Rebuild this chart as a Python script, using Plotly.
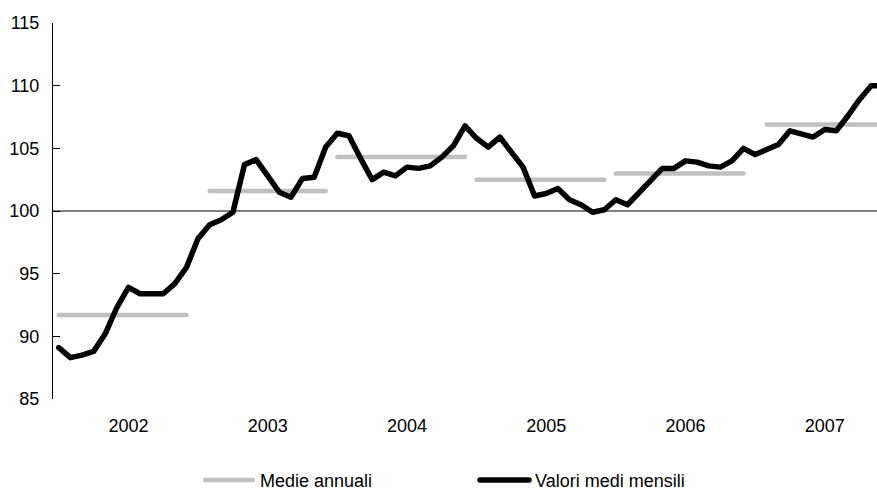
import plotly.graph_objects as go

# ---------------- data ----------------
years = ["2002", "2003", "2004", "2005", "2006", "2007"]

monthly_values = [
    89.1, 88.3, 88.5, 88.8, 90.2, 92.3, 93.9, 93.4, 93.4, 93.4, 94.2, 95.5,          # 2002
    97.8, 98.9, 99.3, 99.9, 103.7, 104.1, 102.8, 101.5, 101.1, 102.6, 102.7, 105.1,  # 2003
    106.2, 106.0, 104.2, 102.5, 103.1, 102.8, 103.5, 103.4, 103.6, 104.3, 105.2, 106.8,  # 2004
    105.8, 105.1, 105.9, 104.7, 103.5, 101.2, 101.4, 101.8, 100.9, 100.5, 99.9, 100.1,   # 2005
    100.9, 100.5, 101.5, 102.5, 103.4, 103.4, 104.0, 103.9, 103.6, 103.5, 104.0, 105.0,  # 2006
    104.5, 104.9, 105.3, 106.4, 106.2, 105.9, 106.5, 106.4, 107.6, 108.9, 110.0, 110.0,  # 2007
]

annual_avg = [91.7, 101.6, 104.3, 102.5, 103.0, 106.9]
# first month (0 = January) for which the annual average is plotted
annual_start_month = [0, 1, 0, 0, 0, 1]

y_ticks = [85, 90, 95, 100, 105, 110, 115]

# ---------------- build ----------------
month_idx = list(range(len(monthly_values)))

ann_x, ann_y = [], []
for k, (avg, s) in enumerate(zip(annual_avg, annual_start_month)):
    for m in range(s, 12):
        ann_x.append(12 * k + m)
        ann_y.append(avg)
    ann_x.append(None)
    ann_y.append(None)

FONT = "Liberation Sans, Arial, sans-serif"
W, Hh = 877, 490
ML, MR, MT, MB = 53, 0, 23, 91
PW, PH = W - ML - MR, Hh - MT - MB


def px_x(x):
    return (x - ML) / PW


def px_y(y):
    return (Hh - MB - y) / PH


fig = go.Figure()

fig.add_trace(go.Scatter(
    x=ann_x, y=ann_y, mode="lines", name="Medie annuali",
    line=dict(color="#C0C0C0", width=4.5), connectgaps=False,
    hoverinfo="skip", showlegend=False,
))
fig.add_trace(go.Scatter(
    x=month_idx, y=monthly_values, mode="lines", name="Valori medi mensili",
    line=dict(color="#000000", width=5.5),
    hoverinfo="skip", showlegend=False,
))

shapes = [
    dict(type="line", xref="paper", yref="y", x0=0, x1=1, y0=100, y1=100,
         line=dict(color="#000000", width=1), layer="below"),
    # manual legend swatches
    dict(type="line", xref="paper", yref="paper",
         x0=px_x(205), x1=px_x(253), y0=px_y(480), y1=px_y(480),
         line=dict(color="#C0C0C0", width=4.5)),
    dict(type="line", xref="paper", yref="paper",
         x0=px_x(480), x1=px_x(529), y0=px_y(480), y1=px_y(480),
         line=dict(color="#000000", width=5.5)),
]

annotations = [
    dict(text="Medie annuali", xref="paper", yref="paper", x=px_x(258), y=px_y(481),
         xanchor="left", yanchor="middle", showarrow=False,
         font=dict(family=FONT, size=18, color="#000000")),
    dict(text="Valori medi mensili", xref="paper", yref="paper", x=px_x(533), y=px_y(481),
         xanchor="left", yanchor="middle", showarrow=False,
         font=dict(family=FONT, size=18, color="#000000")),
]

fig.update_layout(
    width=W, height=Hh,
    margin=dict(l=ML, r=MR, t=MT, b=MB, pad=0),
    paper_bgcolor="white", plot_bgcolor="white",
    font=dict(family=FONT, size=18, color="#000000"),
    shapes=shapes, annotations=annotations,
    showlegend=False,
    xaxis=dict(
        range=[-0.5, 70.5],
        tickmode="array",
        tickvals=[12 * k + 6 for k in range(len(years))],
        ticktext=years,
        ticks="", showline=False, showgrid=False, zeroline=False,
        ticklabelstandoff=14,
        tickfont=dict(family=FONT, size=18, color="#000000"),
    ),
    yaxis=dict(
        range=[85, 115],
        tickmode="array", tickvals=y_ticks,
        ticks="inside", ticklen=7, tickwidth=1, tickcolor="#000000",
        showline=True, linecolor="#000000", linewidth=1,
        showgrid=False, zeroline=False,
        ticklabelstandoff=9,
        tickfont=dict(family=FONT, size=18, color="#000000"),
    ),
)

post = """
var s=document.createElement('style');
s.textContent='html,body{margin:0;padding:0;overflow:hidden} .scatterlayer .js-line{stroke-linecap:round;stroke-linejoin:round} .shapelayer path{stroke-linecap:round}';
document.head.appendChild(s);
"""

fig.write_html("out.html", post_script=post, config={"displayModeBar": False})
